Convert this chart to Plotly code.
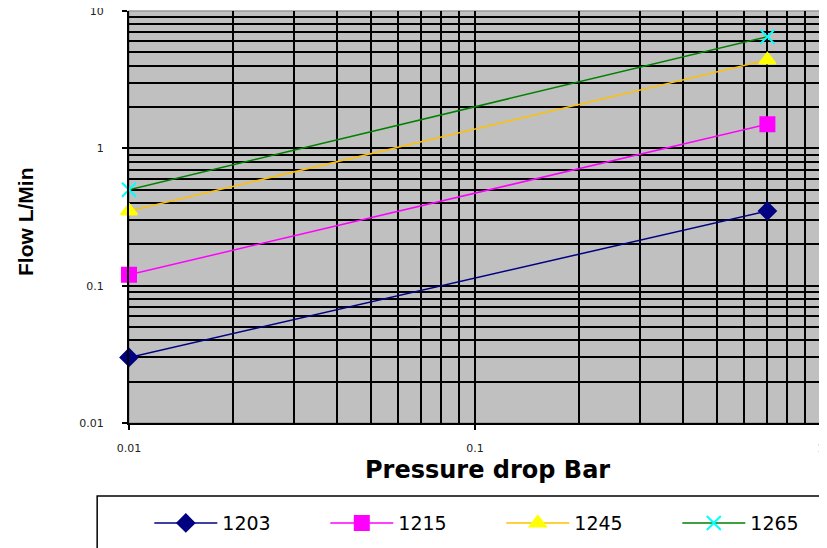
import plotly.graph_objects as go

pressure = [0.01, 0.7]
flow_1203 = [0.03, 0.35]
flow_1215 = [0.12, 1.5]
flow_1245 = [0.35, 4.4]
flow_1265 = [0.5, 6.5]

series = [
    ("1203", flow_1203, "#000080", "#000080", "diamond", 13),
    ("1215", flow_1215, "#FF00FF", "#FF00FF", "square", 14),
    ("1245", flow_1245, "#FFC000", "#FFFF00", "triangle-up", 14),
    ("1265", flow_1265, "#008000", "#00FFFF", "x-thin", 14),
]

fig = go.Figure()
for name, ys, lc, mc, sym, sz in series:
    fig.add_trace(go.Scatter(
        x=pressure, y=ys, name=name, mode="lines+markers", cliponaxis=False,
        line=dict(color=lc, width=1.5),
        marker=dict(symbol=sym, size=sz, color=mc,
                    line=dict(color=mc, width=2)),
    ))

xdec = [0.01, 0.1, 1]
ydec = [0.01, 0.1, 1, 10]
xminor = [m * d for d in [0.01, 0.1] for m in range(2, 10)]
yminor = [m * d for d in [0.01, 0.1, 1] for m in range(2, 10)]

font_ticks = dict(family="DejaVu Sans", size=11, color="#222")

fig.update_xaxes(
    type="log", range=[-2, 0], tickvals=xdec, ticktext=["0.01", "0.1", "1"],
    ticks="outside", ticklen=5, tickwidth=2, tickcolor="black",
    ticklabelstandoff=9, tickfont=font_ticks, automargin=False,
    ticklabeloverflow="allow",
    showgrid=True, gridcolor="black", gridwidth=2,
    minor=dict(tickvals=xminor, showgrid=True, gridcolor="black", gridwidth=2, ticks=""),
    showline=True, linecolor="black", linewidth=2, zeroline=False,
)
fig.update_yaxes(
    type="log", range=[-2, 1], tickvals=ydec, ticktext=["0.01", "0.1", "1", "10"],
    ticks="outside", ticklen=5, tickwidth=2, tickcolor="black",
    ticklabelstandoff=16, tickfont=font_ticks, automargin=False,
    ticklabeloverflow="allow",
    showgrid=True, gridcolor="black", gridwidth=2,
    minor=dict(tickvals=yminor, showgrid=True, gridcolor="black", gridwidth=2, ticks=""),
    showline=True, linecolor="black", linewidth=2, zeroline=False,
)

# axis titles (positions relative to the plot area)
fig.add_annotation(text="<b>Pressure drop Bar</b>", xref="paper", yref="paper",
                   x=(487 - 129) / 692, y=(423 - 470) / 412, showarrow=False,
                   xanchor="center", yanchor="middle",
                   font=dict(family="DejaVu Sans", size=24, color="black"))
fig.add_annotation(text="<b>Flow L/Min</b>", xref="paper", yref="paper",
                   x=(25 - 129) / 692, y=(423 - 222) / 412, showarrow=False, textangle=-90,
                   xanchor="center", yanchor="middle",
                   font=dict(family="Liberation Sans", size=21, color="black"))

fig.add_shape(type="rect", xref="x domain", yref="y domain", x0=0, x1=1, y0=0, y1=1,
              line=dict(color="#999999", width=1.5), layer="below")
fig.add_shape(type="rect", xref="paper", yref="paper", x0=-0.046, x1=1.03, y0=-0.177, y1=-0.35,
              line=dict(color="black", width=1.5))

# page body has an 8px margin, so the figure is 8px smaller and offset
fig.update_layout(
    width=819, height=540,
    margin=dict(l=121, r=6, t=3, b=125, autoexpand=False),
    plot_bgcolor="#C0C0C0", paper_bgcolor="white",
    showlegend=True,
    legend=dict(orientation="h", x=-0.001, xanchor="left", y=-0.243, yanchor="middle",
                itemwidth=63, entrywidth=98, entrywidthmode="pixels",
                borderwidth=21, bordercolor="rgba(0,0,0,0)",
                font=dict(family="DejaVu Sans", size=19, color="black"),
                bgcolor="rgba(0,0,0,0)"),
)

fig.write_html("out.html")
